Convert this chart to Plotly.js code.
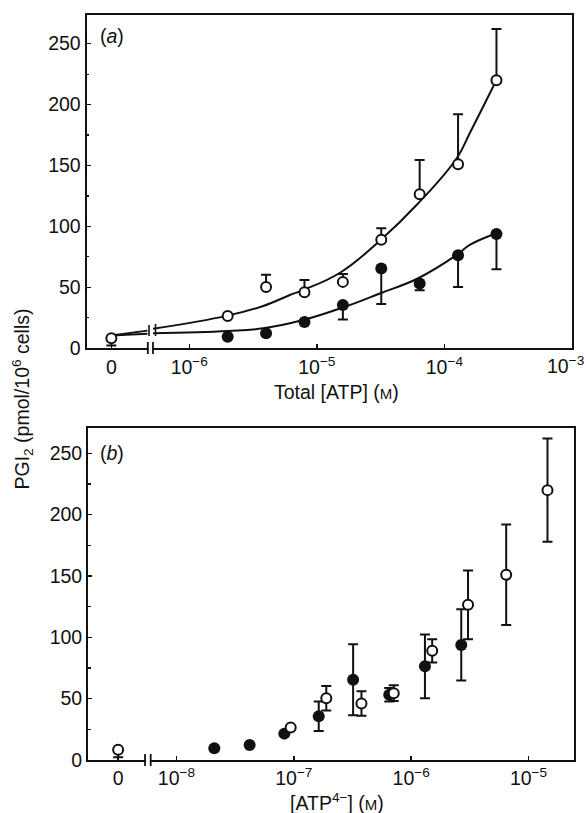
<!DOCTYPE html>
<html>
<head>
<meta charset="utf-8">
<script src="https://cdn.plot.ly/plotly-3.0.1.min.js"></script>
<style>html,body{margin:0;padding:0;background:#fff;}#chart{width:587px;height:813px;}</style>
</head>
<body>
<div id="chart"></div>
<script>
// ---- data ----
// Panel (a): total ATP concentration (M); 0 is drawn on the broken part of the axis
const totalATP   = [0, 2e-6, 4e-6, 8e-6, 1.6e-5, 3.2e-5, 6.4e-5, 1.28e-4, 2.56e-4];
const openPGI    = [8.3, 26.5, 50.3, 46, 54.5, 89, 126.5, 151, 220];
const openErr    = [6, 0, 10, 10, 6.5, 9.5, 28, 41, 42];
const filledATP  = [2e-6, 4e-6, 8e-6, 1.6e-5, 3.2e-5, 6.4e-5, 1.28e-4, 2.56e-4];
const filledPGI  = [9.5, 12.3, 21.5, 35.6, 65.4, 53.2, 76.4, 93.8];
const filledErr  = [0, 0, 0, 12, 29, 5.5, 26, 29];
// Panel (b): free ATP4- concentration (M)
const openATP4   = [0, 9.4e-8, 1.89e-7, 3.77e-7, 7.1e-7, 1.51e-6, 3.05e-6, 6.45e-6, 1.45e-5];
const filledATP4 = [2.1e-8, 4.2e-8, 8.3e-8, 1.63e-7, 3.2e-7, 6.5e-7, 1.31e-6, 2.67e-6];
// fitted curves in panel (a) (null = axis break)
const fitOpenX   = [0, 4.7e-7, null, 5.2e-7, 2e-6, 3.8e-6, 6.15e-6, 7.8e-6, 1.52e-5, 3.12e-5, 6.24e-5, 1.25e-4, 1.58e-4, 2.56e-4];
const fitOpenY   = [10.5, 14.5, null, 16, 26.8, 34.7, 43.7, 47.8, 62, 88.3, 119, 156, 176.5, 220.2];
const fitFilledX = [0, 4.7e-7, null, 5.2e-7, 2e-6, 3.8e-6, 7.8e-6, 1.6e-5, 3.12e-5, 6.24e-5, 1.25e-4, 1.58e-4, 2.56e-4];
const fitFilledY = [10.5, 12, null, 12.3, 14.2, 16.4, 23.2, 33.5, 45, 57.5, 76.6, 84.8, 94.4];
// tick labels
const ticksA = [0, 1e-6, 1e-5, 1e-4, 1e-3];
const ticksB = [0, 1e-8, 1e-7, 1e-6, 1e-5];
const yTicks = [0, 50, 100, 150, 200, 250];

// ---- axis geometry (where "0" sits on the broken log axes) ----
const ZERO_A = Math.pow(10, -6.611);
const ZERO_B = Math.pow(10, -8.497);
const zA = v => (v === null ? null : v === 0 ? ZERO_A : v);
const zB = v => (v === 0 ? ZERO_B : v);
const sup = v => v === 0 ? '0' : '10<sup>\u2212' + Math.round(-Math.log10(v)) + '</sup>';

const W = 587, H = 813;
const PX = p => p / W, PY = p => 1 - p / H;

const FONT = {family: 'Liberation Sans, Arial, sans-serif', size: 19.5, color: '#111'};
const SMALLM = '<span style="font-size:15px">M</span>';
const BLACK = '#111';

const openMarker = {symbol: 'circle', size: 10, color: '#fff', line: {color: BLACK, width: 2}};
const filledMarker = {symbol: 'circle', size: 12, color: BLACK, line: {color: BLACK, width: 0}};
const errStyle = {color: BLACK, thickness: 2, width: 5};
const curveLine = {color: BLACK, width: 2, shape: 'spline', smoothing: 1.2};

const traces = [
  // panel (a) fitted curves
  {x: fitOpenX.map(zA), y: fitOpenY, xaxis: 'x', yaxis: 'y', mode: 'lines',
   line: curveLine, connectgaps: false, hoverinfo: 'skip'},
  {x: fitFilledX.map(zA), y: fitFilledY, xaxis: 'x', yaxis: 'y', mode: 'lines',
   line: curveLine, connectgaps: false, hoverinfo: 'skip'},
  // panel (a) filled: error bars downward only
  {x: filledATP, y: filledPGI, xaxis: 'x', yaxis: 'y', mode: 'markers', marker: filledMarker, cliponaxis: false,
   error_y: Object.assign({type: 'data', symmetric: false, array: filledErr.map(() => 0), arrayminus: filledErr}, errStyle)},
  // panel (a) open: error bars upward (zero point downward)
  {x: totalATP.map(zA), y: openPGI, xaxis: 'x', yaxis: 'y', mode: 'markers', marker: openMarker, cliponaxis: false,
   error_y: Object.assign({type: 'data', symmetric: false,
     array: openErr.map((e, i) => totalATP[i] === 0 ? 0 : e),
     arrayminus: openErr.map((e, i) => totalATP[i] === 0 ? e : 0)}, errStyle)},
  // panel (b) filled
  {x: filledATP4, y: filledPGI, xaxis: 'x2', yaxis: 'y2', mode: 'markers', marker: filledMarker, cliponaxis: false,
   error_y: Object.assign({type: 'data', symmetric: true, array: filledErr}, errStyle)},
  // panel (b) open
  {x: openATP4.map(zB), y: openPGI, xaxis: 'x2', yaxis: 'y2', mode: 'markers', marker: openMarker, cliponaxis: false,
   error_y: Object.assign({type: 'data', symmetric: false,
     array: openErr.map((e, i) => openATP4[i] === 0 ? 0 : e),
     arrayminus: openErr}, errStyle)}
];

const xCommon = {type: 'log', showgrid: false, zeroline: false, showline: true, linecolor: BLACK, linewidth: 2,
  mirror: true, ticks: 'inside', ticklen: 4, tickwidth: 1.5, tickcolor: BLACK, tickfont: FONT, tickmode: 'array',
  ticklabeloverflow: 'allow'};
const yCommon = {showgrid: false, zeroline: false, showline: true, linecolor: BLACK, linewidth: 2,
  mirror: true, ticks: 'inside', ticklen: 4, tickwidth: 1.5, tickcolor: BLACK, tickfont: FONT,
  tickmode: 'array', tickvals: yTicks, ticktext: yTicks.map(String), ticklabeloverflow: 'allow',
  minor: {tickmode: 'linear', tick0: 0, dtick: 25, ticks: 'inside', ticklen: 2.5, tickwidth: 1.2, tickcolor: BLACK}};

// the last tick label of panel (a) sits at the page edge, so it is drawn right-aligned as an annotation
const lastA = ticksA[ticksA.length - 1];
const ticktextA = ticksA.map((v, i) => i === ticksA.length - 1 ? '' : sup(v));

const layout = {
  width: W, height: H, margin: {l: 0, r: 0, t: 0, b: 0},
  paper_bgcolor: '#fff', plot_bgcolor: '#fff', showlegend: false, font: FONT,
  xaxis: Object.assign({}, xCommon, {domain: [PX(86.6), PX(572)], range: [-6.805, -2.9995],
    tickvals: ticksA.map(zA), ticktext: ticktextA, anchor: 'y'}),
  yaxis: Object.assign({}, yCommon, {domain: [PY(348.3), PY(15)], range: [0, 273.5], anchor: 'x'}),
  xaxis2: Object.assign({}, xCommon, {domain: [PX(88.1), PX(573.5)], range: [-8.753, -4.617],
    tickvals: ticksB.map(zB), ticktext: ticksB.map(sup), anchor: 'y2'}),
  yaxis2: Object.assign({}, yCommon, {domain: [PY(760), PY(428.3)], range: [0, 270.4], anchor: 'x2'}),
  annotations: [
    {text: sup(lastA), xref: 'paper', yref: 'paper', x: PX(586), y: PY(365), xanchor: 'right', yanchor: 'middle',
     showarrow: false, font: FONT},
    {text: 'Total [ATP] (' + SMALLM + ')', xref: 'paper', yref: 'paper',
     x: PX(336), y: PY(391.5), xanchor: 'center', yanchor: 'middle', showarrow: false, font: FONT},
    {text: '[ATP<sup>4\u2212</sup>] (' + SMALLM + ')', xref: 'paper', yref: 'paper',
     x: PX(337), y: PY(802), xanchor: 'center', yanchor: 'middle', showarrow: false, font: FONT},
    {text: 'PGI<sub>2</sub> (pmol/10<sup>6</sup> cells)', xref: 'paper', yref: 'paper', textangle: -90,
     x: PX(21.5), y: PY(399), xanchor: 'center', yanchor: 'middle', showarrow: false, font: FONT},
    {text: '(<i>a</i>)', xref: 'paper', yref: 'paper', x: PX(112), y: PY(36), xanchor: 'center', yanchor: 'middle',
     showarrow: false, font: FONT},
    {text: '(<i>b</i>)', xref: 'paper', yref: 'paper', x: PX(112), y: PY(453), xanchor: 'center', yanchor: 'middle',
     showarrow: false, font: FONT}
  ],
  shapes: [
    // axis breaks, panel (a)
    {type: 'rect', xref: 'paper', yref: 'paper', x0: PX(148.6), x1: PX(152.2), y0: PY(346), y1: PY(351),
     fillcolor: '#fff', line: {width: 0}, layer: 'above'},
    {type: 'line', xref: 'paper', yref: 'paper', x0: PX(147.8), x1: PX(147.8), y0: PY(342), y1: PY(354),
     line: {color: BLACK, width: 1.8}, layer: 'above'},
    {type: 'line', xref: 'paper', yref: 'paper', x0: PX(153), x1: PX(153), y0: PY(342), y1: PY(354),
     line: {color: BLACK, width: 1.8}, layer: 'above'},
    // curve breaks, panel (a)
    {type: 'line', xref: 'paper', yref: 'paper', x0: PX(149), x1: PX(149), y0: PY(325), y1: PY(336),
     line: {color: BLACK, width: 1.6}, layer: 'above'},
    {type: 'line', xref: 'paper', yref: 'paper', x0: PX(155.5), x1: PX(155.5), y0: PY(324), y1: PY(336),
     line: {color: BLACK, width: 1.6}, layer: 'above'},
    // axis breaks, panel (b)
    {type: 'rect', xref: 'paper', yref: 'paper', x0: PX(145.8), x1: PX(149.9), y0: PY(757.5), y1: PY(762.5),
     fillcolor: '#fff', line: {width: 0}, layer: 'above'},
    {type: 'line', xref: 'paper', yref: 'paper', x0: PX(145), x1: PX(145), y0: PY(754), y1: PY(766),
     line: {color: BLACK, width: 1.8}, layer: 'above'},
    {type: 'line', xref: 'paper', yref: 'paper', x0: PX(150.7), x1: PX(150.7), y0: PY(754), y1: PY(766),
     line: {color: BLACK, width: 1.8}, layer: 'above'}
  ]
};

Plotly.newPlot('chart', traces, layout, {staticPlot: true, displayModeBar: false});
</script>
</body>
</html>
